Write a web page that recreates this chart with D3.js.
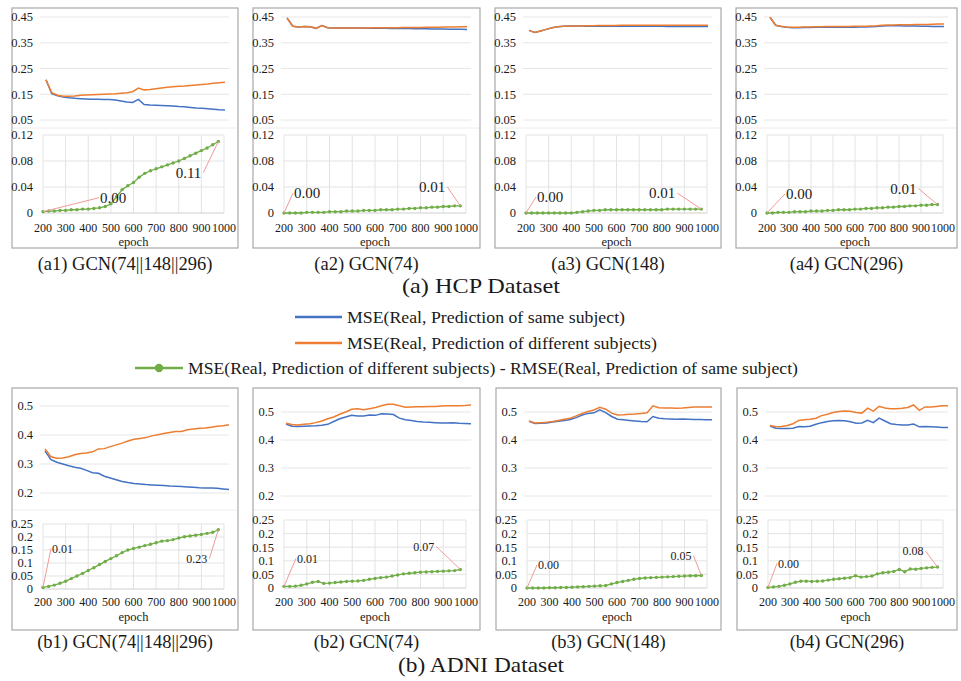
<!DOCTYPE html>
<html>
<head>
<meta charset="utf-8">
<script src="https://cdn.jsdelivr.net/npm/d3@7/dist/d3.min.js"></script>
<style>
  body { margin: 0; background: #fff; }
  svg { display: block; }
  text { fill: #1a1a1a; }
</style>
</head>
<body>
<svg id="chart" width="961" height="681" font-family="'Liberation Serif', 'Times New Roman', serif"></svg>
<script>
// epochs shared by every series
const epochs = [200,225,250,275,300,325,350,375,400,425,450,475,500,525,550,575,
                600,625,650,675,700,725,750,775,800,825,850,875,900,925,950,975];
const xTicks = [200,300,400,500,600,700,800,900,1000];
const hcpTopTicks = [0.05,0.15,0.25,0.35,0.45];
const hcpGapTicks = [0,0.04,0.08,0.12];
const adniTopTicks = [0.2,0.3,0.4,0.5];
const adniGapTicks = [0,0.05,0.1,0.15,0.2,0.25];

const seriesNames = [
  'MSE(Real, Prediction of same subject)',
  'MSE(Real, Prediction of different subjects)',
  'MSE(Real, Prediction of different subjects) - RMSE(Real, Prediction of same subject)'
];

// ---- HCP ----
const a1Same = [0.206,0.152,0.144,0.139,0.136,0.134,0.133,0.132,0.131,0.131,0.130,0.130,0.128,0.124,0.120,0.118,0.130,0.110,0.108,0.107,0.106,0.105,0.104,0.102,0.101,0.099,0.097,0.096,0.094,0.092,0.090,0.089];
const a1Diff = [0.206,0.156,0.146,0.142,0.142,0.143,0.146,0.147,0.148,0.149,0.150,0.151,0.152,0.154,0.156,0.160,0.174,0.167,0.168,0.171,0.174,0.177,0.179,0.181,0.182,0.184,0.186,0.188,0.190,0.193,0.195,0.197];
const a1Gap  = [0.002,0.003,0.003,0.004,0.004,0.005,0.005,0.006,0.006,0.007,0.008,0.010,0.014,0.025,0.036,0.042,0.047,0.055,0.061,0.065,0.068,0.071,0.074,0.077,0.080,0.084,0.088,0.092,0.096,0.100,0.105,0.110];

const a2Same = [0.446,0.414,0.411,0.413,0.412,0.406,0.417,0.408,0.407,0.407,0.407,0.407,0.407,0.407,0.406,0.406,0.406,0.406,0.405,0.405,0.405,0.405,0.404,0.404,0.404,0.403,0.403,0.403,0.402,0.402,0.402,0.401];
const a2Diff = [0.446,0.414,0.411,0.413,0.412,0.406,0.417,0.408,0.407,0.407,0.407,0.407,0.407,0.407,0.407,0.408,0.408,0.408,0.408,0.408,0.409,0.409,0.409,0.409,0.410,0.410,0.410,0.411,0.411,0.411,0.412,0.412];
const a2Gap  = [0.000,0.000,0.000,0.000,0.001,0.001,0.001,0.001,0.002,0.002,0.002,0.003,0.003,0.003,0.004,0.004,0.004,0.005,0.005,0.005,0.006,0.006,0.007,0.007,0.008,0.008,0.009,0.009,0.010,0.010,0.011,0.011];

const a3Same = [0.398,0.390,0.396,0.402,0.408,0.412,0.414,0.415,0.415,0.415,0.414,0.414,0.414,0.414,0.414,0.414,0.414,0.414,0.414,0.414,0.414,0.414,0.414,0.414,0.413,0.413,0.413,0.413,0.413,0.413,0.413,0.413];
const a3Diff = [0.398,0.390,0.396,0.402,0.408,0.412,0.414,0.415,0.415,0.415,0.416,0.416,0.417,0.417,0.417,0.417,0.418,0.418,0.418,0.418,0.418,0.418,0.418,0.418,0.418,0.418,0.418,0.418,0.418,0.418,0.418,0.418];
const a3Gap  = [0.000,0.000,0.000,0.000,0.000,0.000,0.000,0.000,0.000,0.001,0.002,0.003,0.004,0.004,0.005,0.005,0.005,0.005,0.005,0.005,0.005,0.005,0.005,0.005,0.005,0.006,0.006,0.006,0.006,0.006,0.006,0.006];

const a4Same = [0.449,0.418,0.413,0.410,0.408,0.408,0.409,0.409,0.410,0.410,0.410,0.410,0.410,0.410,0.410,0.410,0.411,0.411,0.412,0.413,0.415,0.416,0.416,0.416,0.415,0.415,0.415,0.414,0.414,0.413,0.413,0.413];
const a4Diff = [0.449,0.418,0.414,0.411,0.410,0.410,0.411,0.411,0.412,0.412,0.413,0.413,0.413,0.413,0.413,0.414,0.414,0.414,0.415,0.416,0.418,0.419,0.419,0.420,0.420,0.420,0.421,0.421,0.421,0.422,0.423,0.423];
const a4Gap  = [0.000,0.000,0.001,0.001,0.001,0.002,0.002,0.002,0.003,0.003,0.003,0.004,0.004,0.005,0.005,0.005,0.006,0.006,0.007,0.007,0.008,0.008,0.009,0.009,0.010,0.010,0.011,0.011,0.012,0.012,0.013,0.013];

// ---- ADNI ----
const b1Same = [0.345,0.315,0.306,0.300,0.294,0.289,0.285,0.278,0.270,0.268,0.258,0.252,0.246,0.240,0.236,0.233,0.231,0.229,0.228,0.227,0.226,0.224,0.223,0.222,0.221,0.220,0.218,0.217,0.217,0.216,0.214,0.212];
const b1Diff = [0.352,0.325,0.320,0.321,0.325,0.332,0.336,0.338,0.342,0.352,0.353,0.360,0.366,0.372,0.379,0.385,0.388,0.391,0.397,0.401,0.405,0.409,0.412,0.412,0.418,0.421,0.423,0.424,0.427,0.430,0.432,0.435];
const b1Gap  = [0.006,0.010,0.015,0.022,0.030,0.040,0.050,0.060,0.071,0.082,0.094,0.106,0.117,0.128,0.140,0.150,0.156,0.161,0.167,0.172,0.178,0.184,0.186,0.190,0.196,0.201,0.204,0.207,0.210,0.214,0.218,0.228];

const b2Same = [0.457,0.449,0.448,0.449,0.450,0.451,0.453,0.456,0.466,0.476,0.482,0.488,0.486,0.486,0.489,0.488,0.494,0.493,0.491,0.478,0.472,0.470,0.466,0.464,0.463,0.462,0.461,0.461,0.462,0.460,0.459,0.458];
const b2Diff = [0.460,0.455,0.454,0.456,0.458,0.462,0.468,0.476,0.482,0.492,0.500,0.510,0.512,0.508,0.512,0.516,0.522,0.528,0.528,0.522,0.517,0.518,0.519,0.519,0.520,0.520,0.521,0.522,0.522,0.522,0.523,0.525];
const b2Gap  = [0.006,0.006,0.007,0.010,0.015,0.021,0.024,0.017,0.018,0.020,0.022,0.024,0.025,0.026,0.028,0.032,0.035,0.038,0.040,0.044,0.048,0.052,0.054,0.056,0.058,0.059,0.060,0.061,0.062,0.063,0.064,0.068];

const b3Same = [0.467,0.459,0.460,0.461,0.464,0.467,0.470,0.473,0.480,0.489,0.495,0.497,0.508,0.498,0.484,0.474,0.472,0.470,0.468,0.466,0.465,0.484,0.478,0.476,0.475,0.474,0.475,0.474,0.473,0.473,0.472,0.472];
const b3Diff = [0.468,0.461,0.462,0.463,0.466,0.470,0.474,0.478,0.486,0.495,0.502,0.507,0.517,0.510,0.496,0.489,0.490,0.492,0.493,0.495,0.497,0.522,0.515,0.514,0.514,0.513,0.514,0.516,0.518,0.518,0.518,0.518];
const b3Gap  = [0.000,0.000,0.000,0.000,0.001,0.001,0.002,0.002,0.003,0.004,0.005,0.006,0.007,0.008,0.009,0.015,0.020,0.024,0.028,0.032,0.035,0.037,0.038,0.039,0.040,0.041,0.042,0.043,0.044,0.045,0.045,0.046];

const b4Same = [0.450,0.442,0.441,0.441,0.442,0.448,0.447,0.449,0.456,0.462,0.466,0.469,0.470,0.469,0.465,0.460,0.461,0.470,0.462,0.478,0.468,0.458,0.455,0.454,0.454,0.457,0.447,0.448,0.447,0.446,0.445,0.445];
const b4Diff = [0.452,0.447,0.448,0.452,0.458,0.470,0.472,0.474,0.478,0.487,0.492,0.498,0.502,0.504,0.503,0.498,0.496,0.514,0.503,0.520,0.514,0.512,0.512,0.513,0.516,0.525,0.506,0.518,0.518,0.520,0.522,0.522];
const b4Gap  = [0.002,0.004,0.006,0.010,0.015,0.021,0.025,0.025,0.024,0.025,0.026,0.029,0.032,0.034,0.036,0.038,0.045,0.040,0.042,0.044,0.052,0.056,0.058,0.061,0.068,0.060,0.070,0.069,0.072,0.074,0.076,0.077];

const colors = { same: '#4472C4', diff: '#ED7D31', gap: '#70AD47', leader: '#F19A9A' };

// layout shared by a row of panels
const rows = {
  a: { top: 8, h: 240, topDomain: [0.05, 0.45], topRange: [112, 9], topTicks: hcpTopTicks,
       sep: 120, gapDomain: [0, 0.12], gapRange: [205, 127], gapTicks: hcpGapTicks,
       xLabY: 220, epochY: 234, lineL: 34, lineR: 13, annSize: 15,
       caption: '(a) HCP Dataset', capY: 264, titleY: 286, titleLen: 158 },
  b: { top: 388, h: 242, topDomain: [0.2, 0.5], topRange: [108, 24], topTicks: adniTopTicks,
       sep: 122, gapDomain: [0, 0.25], gapRange: [200, 132], gapTicks: adniGapTicks,
       xLabY: 214, epochY: 229, lineL: 33, lineR: 9, annSize: 12,
       caption: '(b) ADNI Dataset', capY: 642, titleY: 665, titleLen: 166 }
};

// panels: data + label offsets [dx, dy] for first / last gap labels
const panels = [
  { row: 'a', x: 12,  w: 226, name: '(a1) GCN(74||148||296)', same: a1Same, diff: a1Diff, gap: a1Gap, first: [57, -14], last: [-17, 31] },
  { row: 'a', x: 253, w: 227, name: '(a2) GCN(74)',  same: a2Same, diff: a2Diff, gap: a2Gap, first: [10, -20], last: [-15, -19] },
  { row: 'a', x: 495, w: 226, name: '(a3) GCN(148)', same: a3Same, diff: a3Diff, gap: a3Gap, first: [11, -16], last: [-26, -16] },
  { row: 'a', x: 736, w: 221, name: '(a4) GCN(296)', same: a4Same, diff: a4Diff, gap: a4Gap, first: [19, -19], last: [-21, -16] },
  { row: 'b', x: 12,  w: 226, name: '(b1) GCN(74||148||296)', same: b1Same, diff: b1Diff, gap: b1Gap, first: [9, -39], last: [-11, 29],
    topRange: [105, 18], gapRange: [201, 136] },
  { row: 'b', x: 253, w: 227, name: '(b2) GCN(74)',  same: b2Same, diff: b2Diff, gap: b2Gap, first: [13, -28], last: [-26, -23] },
  { row: 'b', x: 496, w: 225, name: '(b3) GCN(148)', same: b3Same, diff: b3Diff, gap: b3Gap, first: [11, -23], last: [-10, -20] },
  { row: 'b', x: 737, w: 220, name: '(b4) GCN(296)', same: b4Same, diff: b4Diff, gap: b4Gap, first: [10, -24], last: [-14, -16] }
];

const svg = d3.select('#chart');

function drawPanel(p) {
  const r = rows[p.row];
  const g = svg.append('g').attr('transform', `translate(${p.x},${r.top})`);

  g.append('rect').attr('width', p.w).attr('height', r.h)
    .attr('fill', '#fff').attr('stroke', '#a8a8a8').attr('stroke-width', 1.2);

  // upper chart: the two MSE curves
  const xTop = d3.scaleLinear().domain([200, 975]).range([r.lineL, p.w - r.lineR]);
  const yTop = d3.scaleLinear().domain(r.topDomain).range(p.topRange || r.topRange);

  g.selectAll('.tgrid').data(r.topTicks).join('line')
    .attr('x1', 28).attr('x2', p.w - 9)
    .attr('y1', d => yTop(d)).attr('y2', d => yTop(d))
    .attr('stroke', '#e6e6e6').attr('stroke-width', 1);
  g.selectAll('.tlab').data(r.topTicks).join('text')
    .attr('x', 21).attr('y', d => yTop(d)).attr('dy', '0.35em')
    .attr('text-anchor', 'end').attr('font-size', 12.5)
    .text(d => p.row === 'a' ? d.toFixed(2) : d3.format('.1f')(d));

  g.append('line').attr('x1', 1).attr('x2', p.w - 1).attr('y1', r.sep).attr('y2', r.sep)
    .attr('stroke', '#ececec');

  const lineTop = vals => d3.line().x((d, i) => xTop(epochs[i])).y(d => yTop(d))(vals);
  g.append('path').attr('d', lineTop(p.same)).attr('fill', 'none')
    .attr('stroke', colors.same).attr('stroke-width', 1.5);
  g.append('path').attr('d', lineTop(p.diff)).attr('fill', 'none')
    .attr('stroke', colors.diff).attr('stroke-width', 1.5);

  // lower chart: the gap curve
  const x = d3.scaleLinear().domain([200, 1000]).range([31, p.w - 14]);
  const y = d3.scaleLinear().domain(r.gapDomain).range(p.gapRange || r.gapRange);
  const [yb, yt] = y.range();

  g.selectAll('.vgrid').data(xTicks).join('line')
    .attr('x1', d => x(d)).attr('x2', d => x(d)).attr('y1', yt).attr('y2', yb)
    .attr('stroke', '#e3e3e3');
  g.selectAll('.hgrid').data(r.gapTicks).join('line')
    .attr('x1', x(200)).attr('x2', x(1000))
    .attr('y1', d => y(d)).attr('y2', d => y(d))
    .attr('stroke', d => d === 0 ? '#cfcfcf' : '#e3e3e3');
  g.selectAll('.glab').data(r.gapTicks).join('text')
    .attr('x', 21).attr('y', d => y(d)).attr('dy', '0.35em')
    .attr('text-anchor', 'end').attr('font-size', 12.5)
    .text(d => d === 0 ? '0' : (p.row === 'a' ? d.toFixed(2) : String(d)));
  g.selectAll('.xlab').data(xTicks).join('text')
    .attr('x', d => x(d)).attr('y', r.xLabY).attr('dy', '0.35em')
    .attr('text-anchor', 'middle').attr('font-size', 12)
    .text(d => d);
  g.append('text').attr('x', (x(200) + x(1000)) / 2).attr('y', r.epochY).attr('dy', '0.35em')
    .attr('text-anchor', 'middle').attr('font-size', 12.5).text('epoch');

  const gapLine = d3.line().x((d, i) => x(epochs[i])).y(d => y(d));
  g.append('path').attr('d', gapLine(p.gap)).attr('fill', 'none')
    .attr('stroke', colors.gap).attr('stroke-width', 1.3);
  g.selectAll('.mk').data(p.gap).join('circle')
    .attr('cx', (d, i) => x(epochs[i])).attr('cy', d => y(d)).attr('r', 1.7)
    .attr('fill', colors.gap);

  // data labels on first and last point, with leader lines
  const n = p.gap.length - 1;
  const ends = [
    { px: x(epochs[0]), py: y(p.gap[0]), v: p.gap[0], off: p.first, anchor: 'start' },
    { px: x(epochs[n]), py: y(p.gap[n]), v: p.gap[n], off: p.last, anchor: 'end' }
  ];
  ends.forEach(e => {
    const lx = e.px + e.off[0], ly = e.py + e.off[1];
    g.append('line').attr('x1', e.px).attr('y1', e.py)
      .attr('x2', e.anchor === 'start' ? lx - 1 : lx + 2).attr('y2', ly)
      .attr('stroke', colors.leader).attr('stroke-width', 1);
    g.append('text').attr('x', lx).attr('y', ly).attr('dy', '0.35em')
      .attr('text-anchor', e.anchor).attr('font-size', r.annSize)
      .text(e.v.toFixed(2));
  });

  // caption under the frame
  svg.append('text').attr('x', p.x + p.w / 2).attr('y', r.capY).attr('dy', '0.35em')
    .attr('text-anchor', 'middle').attr('font-size', 18.5).text(p.name);
}

panels.forEach(drawPanel);

// dataset titles
['a', 'b'].forEach(k => {
  svg.append('text').attr('x', 481).attr('y', rows[k].titleY).attr('dy', '0.35em')
    .attr('text-anchor', 'middle').attr('font-size', 21)
    .attr('textLength', rows[k].titleLen).attr('lengthAdjust', 'spacingAndGlyphs')
    .text(rows[k].caption);
});

// legend
const legendRows = [
  { x1: 295, x2: 342, y: 317, color: colors.same, text: seriesNames[0], len: 278, marker: false },
  { x1: 295, x2: 342, y: 343, color: colors.diff, text: seriesNames[1], len: 310, marker: false },
  { x1: 135, x2: 183, y: 368, color: colors.gap,  text: seriesNames[2], len: 610, marker: true }
];
const leg = svg.append('g');
legendRows.forEach(l => {
  leg.append('line').attr('x1', l.x1).attr('x2', l.x2).attr('y1', l.y).attr('y2', l.y)
    .attr('stroke', l.color).attr('stroke-width', 2.6);
  if (l.marker) {
    leg.append('circle').attr('cx', (l.x1 + l.x2) / 2).attr('cy', l.y).attr('r', 4.2)
      .attr('fill', l.color);
  }
  leg.append('text').attr('x', l.x2 + 5).attr('y', l.y).attr('dy', '0.35em')
    .attr('font-size', 17.5).attr('textLength', l.len).attr('lengthAdjust', 'spacingAndGlyphs')
    .text(l.text);
});
</script>
</body>
</html>
